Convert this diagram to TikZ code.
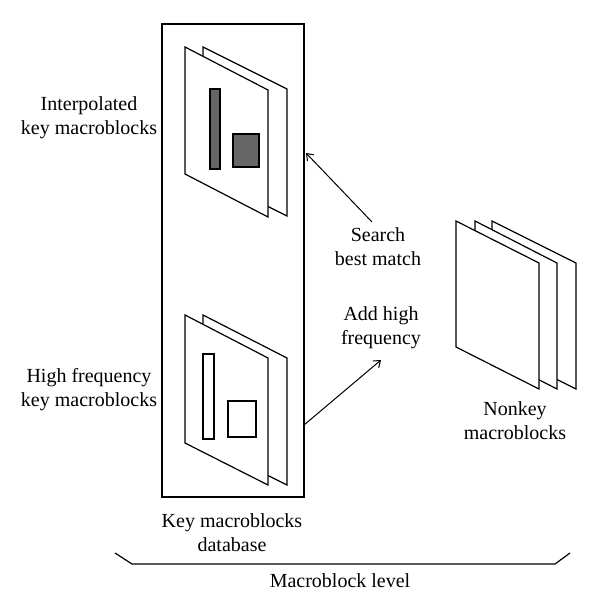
\documentclass[tikz,border=0pt]{standalone}
\usepackage{fontspec}
\setmainfont{Liberation Serif}
\usetikzlibrary{arrows.meta}
\begin{document}
\begin{tikzpicture}[x=1pt,y=-1pt,
  line/.style={line width=1.2pt, line join=miter},
  sheet/.style={line, draw=black, fill=white},
  lbl/.style={font=\fontsize{20}{24}\selectfont, align=center, inner sep=0pt},
  arr/.style={line width=1pt, -{Straight Barb[length=6pt,width=9pt,line width=1pt]}}]
\useasboundingbox[fill=white] (0,0) rectangle (600,612);
% database box
\node[draw, line width=1.3pt, minimum width=142pt, minimum height=473pt, inner sep=0pt, outer sep=0pt] (db) at (233,260.5) {};
\coordinate (dbR1) at (306,153);
\coordinate (dbR2) at (304,425);
% top sheets
\draw[sheet] (203,47) -- (287,89) -- (287,216) -- (203,174) -- cycle;
\draw[sheet] (185,47) -- (268,90) -- (268,217) -- (185,174) -- cycle;
\draw[line, fill=black!60] (210,89) rectangle (220,169);
\draw[line, fill=black!60] (233,134) rectangle (259,167);
% bottom sheets
\draw[sheet] (203,315) -- (287,358) -- (287,485) -- (203,443) -- cycle;
\draw[sheet] (185,315) -- (268,358) -- (268,485) -- (185,443) -- cycle;
\draw[line] (203,354) rectangle (214,439);
\draw[line] (228,401) rectangle (256,437);
% nonkey sheets
\draw[sheet] (492,221) -- (576,263) -- (576,389) -- (492,347) -- cycle;
\draw[sheet] (475,221) -- (557,263) -- (557,389) -- (475,347) -- cycle;
\draw[sheet] (456,221) -- (539,263) -- (539,389) -- (456,347) -- cycle;
% labels
\node[lbl] (interp) at (89,118) {Interpolated\\key macroblocks};
\node[lbl] (hf) at (89,390) {High frequency\\key macroblocks};
\node[lbl] (search) at (378,247) {Search\\best match};
\node[lbl] (add) at (381,328) {Add high\\frequency};
\node[lbl] (nonkey) at (515,421) {Nonkey\\macroblocks};
\node[lbl] (dbl) at (232,533) {Key macroblocks\\database};
\node[lbl] (level) at (340,581) {Macroblock level};
% arrows
\coordinate (s0) at (372,222);
\coordinate (a1) at (381,360);
\draw[arr] (s0) -- (dbR1);
\draw[arr] (dbR2) -- (a1);
% brace
\coordinate (b1) at (115,553);
\coordinate (b2) at (132,564);
\coordinate (b3) at (555,564);
\coordinate (b4) at (570,553);
\draw[line width=1.2pt] (b1) -- (b2) -- (b3) -- (b4);
\end{tikzpicture}
\end{document}
